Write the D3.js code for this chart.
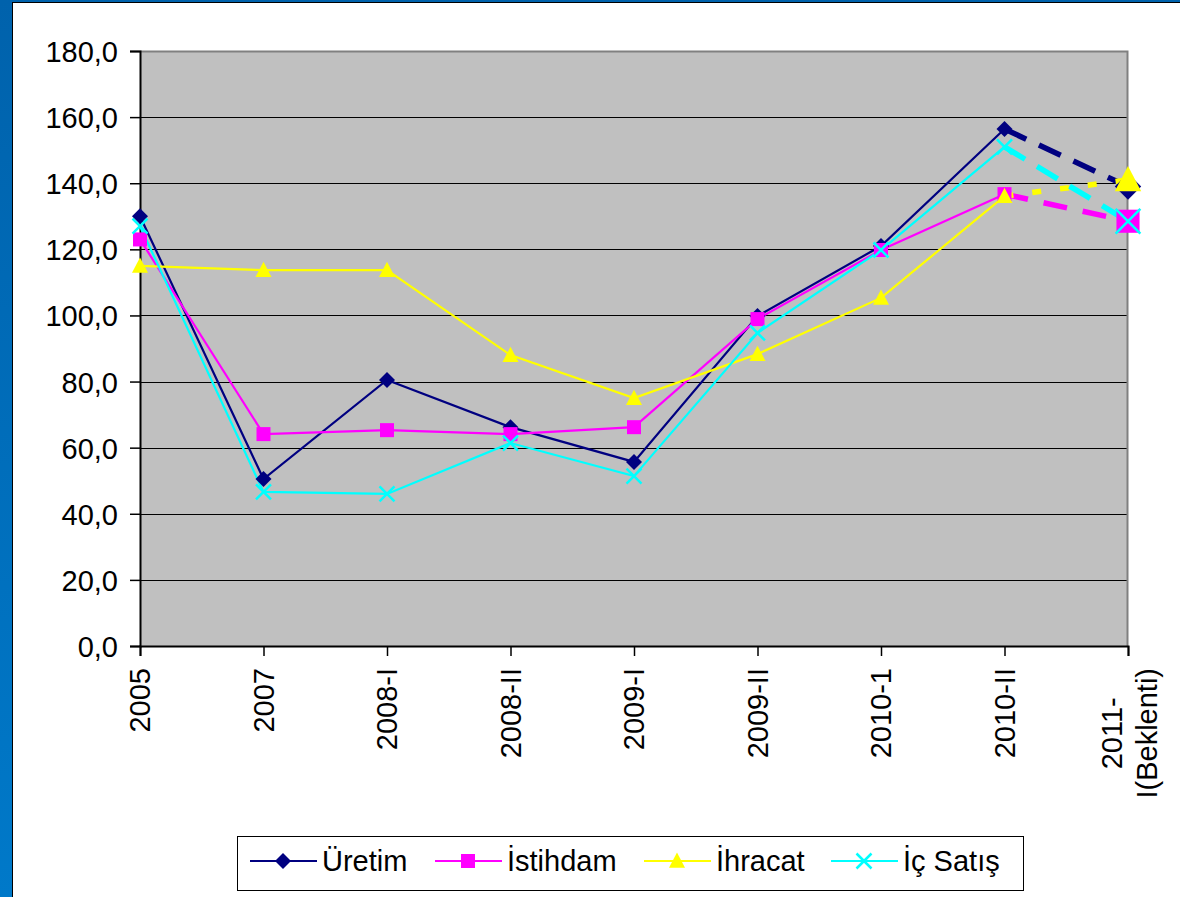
<!DOCTYPE html>
<html lang="tr">
<head>
<meta charset="UTF-8">
<title>Üretim, İstihdam, İhracat, İç Satış</title>
<script src="https://d3js.org/d3.v7.min.js"></script>
<style>
    body { margin: 0; background: #fff; }
    text { font-family: "Liberation Sans", Arial, sans-serif; fill: #000; }
</style>
</head>
<body>
<svg width="1180" height="897"></svg>
<script>
    // data
    const categories = ["2005", "2007", "2008-I", "2008-II", "2009-I", "2009-II", "2010-1", "2010-II", "2011-I(Beklenti)"];
    const uretim   = [130.0, 50.5, 80.5, 66.2, 55.7, 99.8, 121.0, 156.4, 139.0];
    const istihdam = [123.0, 64.1, 65.3, 64.1, 66.2, 98.9, 119.8, 136.7, 128.5];
    const ihracat  = [115.0, 113.7, 113.7, 88.0, 75.0, 88.3, 105.3, 136.1, 141.0];
    const icSatis  = [127.0, 46.6, 46.0, 61.4, 51.4, 94.7, 119.8, 151.0, 128.5];
    const yTicks = [0, 20, 40, 60, 80, 100, 120, 140, 160, 180];

    const series = [
        {name: "Üretim",   values: uretim,   color: "#000080", shape: "diamond", dash: "24,14"},
        {name: "İstihdam", values: istihdam, color: "#FF00FF", shape: "square",  dash: "24,16"},
        {name: "İhracat",  values: ihracat,  color: "#FFFF00", shape: "triangle", dash: "9,19"},
        {name: "İç Satış", values: icSatis,  color: "#00FFFF", shape: "x",       dash: "24,14"}
    ];

    const svg = d3.select("svg");
    const plotLeft = 140, plotRight = 1128, plotTop = 51, plotBottom = 646;

    // blue slide frame
    const defs = svg.append("defs");
    const grad = defs.append("linearGradient").attr("id", "frame").attr("x1", 0).attr("y1", 0).attr("x2", 0).attr("y2", 1);
    grad.append("stop").attr("offset", 0).attr("stop-color", "#0062AC");
    grad.append("stop").attr("offset", 1).attr("stop-color", "#0079C9");
    svg.append("rect").attr("width", 1180).attr("height", 897).attr("fill", "url(#frame)");
    svg.append("rect").attr("x", 12.5).attr("y", 2.5).attr("width", 1180).attr("height", 900)
        .attr("fill", "#fff").attr("stroke", "#000").attr("stroke-width", 1);

    const x = d3.scalePoint().domain(categories).range([plotLeft, plotRight]).padding(0);
    const y = d3.scaleLinear().domain([0, 180]).range([plotBottom, plotTop]);

    // plot area
    svg.append("rect").attr("x", plotLeft).attr("y", plotTop).attr("width", plotRight - plotLeft).attr("height", plotBottom - plotTop)
        .attr("fill", "#C0C0C0");
    svg.append("g").selectAll("line").data(yTicks.filter(d => d > 0 && d < 180)).join("line")
        .attr("x1", plotLeft).attr("x2", plotRight)
        .attr("y1", d => Math.round(y(d)) + 0.5).attr("y2", d => Math.round(y(d)) + 0.5)
        .attr("stroke", "#000").attr("stroke-width", 1);
    svg.append("path")
        .attr("d", `M${plotLeft},${plotTop + 0.5}H${plotRight - 0.5}V${plotBottom}`)
        .attr("fill", "none").attr("stroke", "#808080").attr("stroke-width", 2);

    // y axis
    const yAxis = svg.append("g").attr("transform", `translate(${plotLeft},0)`)
        .call(d3.axisLeft(y).tickValues(yTicks).tickSize(10).tickPadding(12)
            .tickFormat(d => d3.format(".1f")(d).replace(".", ",")));
    yAxis.select(".domain").attr("stroke", "#000").attr("stroke-width", 2);
    yAxis.selectAll(".tick line").attr("stroke", "#000").attr("stroke-width", 1.5);
    yAxis.selectAll("text").attr("font-size", 29).attr("dy", "0.36em")
        .style("font-family", '"Liberation Sans", Arial, sans-serif').attr("fill", "#000");

    // x axis
    const xAxis = svg.append("g").attr("transform", `translate(0,${plotBottom})`)
        .call(d3.axisBottom(x).tickSize(10).tickFormat(""));
    xAxis.select(".domain").attr("stroke", "#000").attr("stroke-width", 2);
    xAxis.selectAll(".tick line").attr("stroke", "#000").attr("stroke-width", 1.5);

    const xl = svg.append("g").attr("font-size", 29);
    categories.forEach(c => {
        const g = xl.append("g").attr("transform", `translate(${x(c)},668) rotate(-90)`);
        if (c === "2011-I(Beklenti)") {
            const t2 = g.append("text").attr("text-anchor", "end").attr("dy", "1.0em").text("I(Beklenti)");
            const w = t2.node().getComputedTextLength();
            g.append("text").attr("text-anchor", "middle").attr("x", -w / 2).attr("dy", "-0.22em").text("2011-");
        } else {
            g.append("text").attr("text-anchor", "end").attr("dy", "0.36em").text(c);
        }
    });

    // markers, k scales the size
    function marker(sel, shape, color, k) {
        if (shape === "diamond") {
            const s = 8 * k;
            sel.append("path").attr("d", `M0,${-s}L${s},0L0,${s}L${-s},0Z`).attr("fill", color);
        } else if (shape === "square") {
            const s = 7 * k;
            sel.append("rect").attr("x", -s).attr("y", -s).attr("width", 2 * s).attr("height", 2 * s).attr("fill", color);
        } else if (shape === "triangle") {
            const s = 8 * k;
            sel.append("path").attr("d", `M0,${-s * 1.05}L${s},${s * 0.85}L${-s},${s * 0.85}Z`).attr("fill", color);
        } else {
            const s = 7.5 * k;
            sel.append("path").attr("d", `M${-s},${-s}L${s},${s}M${s},${-s}L${-s},${s}`)
                .attr("stroke", color).attr("stroke-width", 2.5).attr("fill", "none");
        }
    }

    const line = d3.line().x(d => x(d.c)).y(d => y(d.v));
    const plot = svg.append("g");
    series.forEach(s => {
        const pts = s.values.map((v, i) => ({c: categories[i], v: v}));
        plot.append("path").datum(pts.slice(0, 8)).attr("d", line)
            .attr("fill", "none").attr("stroke", s.color).attr("stroke-width", 2.2);
        plot.append("path").datum(pts.slice(7)).attr("d", line)
            .attr("fill", "none").attr("stroke", s.color).attr("stroke-width", 5.5)
            .attr("stroke-dasharray", s.dash);
    });
    series.forEach(s => {
        s.values.forEach((v, i) => {
            const g = plot.append("g").attr("transform", `translate(${x(categories[i])},${y(v)})`);
            marker(g, s.shape, s.color, i === 8 ? 1.65 : 1);
        });
    });

    // legend
    const legend = svg.append("g");
    legend.append("rect").attr("x", 237.5).attr("y", 836.5).attr("width", 786).attr("height", 54)
        .attr("fill", "#fff").attr("stroke", "#000").attr("stroke-width", 1);
    const legendX = [250, 435, 644, 831];
    series.forEach((s, i) => {
        const g = legend.append("g").attr("transform", `translate(${legendX[i]},861)`);
        g.append("line").attr("x1", 0).attr("x2", 67).attr("stroke", s.color).attr("stroke-width", 2.2);
        marker(g.append("g").attr("transform", "translate(33,0)"), s.shape, s.color, 1);
        g.append("text").attr("x", 72).attr("dy", "0.36em").attr("font-size", 29).text(s.name);
    });
</script>
</body>
</html>
